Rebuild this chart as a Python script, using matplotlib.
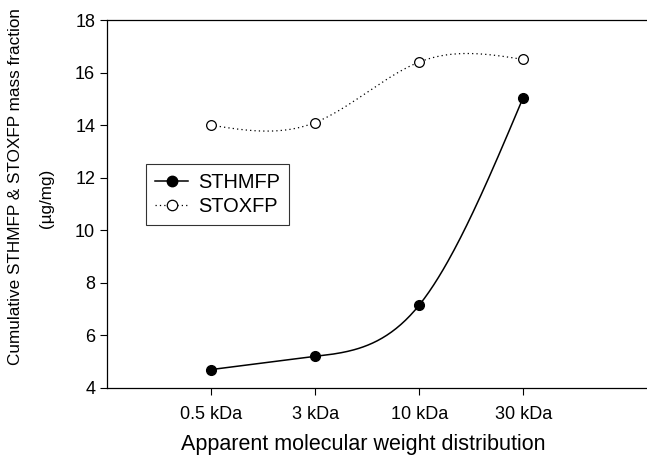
import numpy as np
import matplotlib
matplotlib.use("Agg")
import matplotlib.pyplot as plt

plt.rcParams['font.family'] = ['Liberation Sans', 'DejaVu Sans']

# --- data ---
categories = ['0.5 kDa', '3 kDa', '10 kDa', '30 kDa']
sthmfp = [4.7, 5.2, 7.15, 15.05]
stoxfp = [14.0, 14.1, 16.4, 16.5]


def natural_spline(x, y, n=200):
    # natural cubic spline through the points (smooth line as in SigmaPlot)
    x = np.asarray(x, float)
    y = np.asarray(y, float)
    k = len(x)
    h = np.diff(x)
    A = np.zeros((k, k))
    b = np.zeros(k)
    A[0, 0] = A[-1, -1] = 1
    for i in range(1, k - 1):
        A[i, i - 1] = h[i - 1]
        A[i, i] = 2 * (h[i - 1] + h[i])
        A[i, i + 1] = h[i]
        b[i] = 6 * ((y[i + 1] - y[i]) / h[i] - (y[i] - y[i - 1]) / h[i - 1])
    M = np.linalg.solve(A, b)
    xs = np.linspace(x[0], x[-1], n)
    ys = np.empty_like(xs)
    for j, t in enumerate(xs):
        i = min(np.searchsorted(x, t, side='right') - 1, k - 2)
        a, c = x[i], x[i + 1]
        hi = c - a
        ys[j] = (M[i] * (c - t) ** 3 / (6 * hi) + M[i + 1] * (t - a) ** 3 / (6 * hi)
                 + (y[i] / hi - M[i] * hi / 6) * (c - t)
                 + (y[i + 1] / hi - M[i + 1] * hi / 6) * (t - a))
    return xs, ys


xpos = np.arange(1, len(categories) + 1)

fig = plt.figure(figsize=(6.47, 4.55), dpi=100)
ax = fig.add_axes([0.1654, 0.1473, 0.8346, 0.8087])

xs, ys = natural_spline(xpos, sthmfp)
ax.plot(xs, ys, color='black', lw=1.1)
ax.plot(xpos, sthmfp, 'o', color='black', ms=7, zorder=3)
ax.plot([], [], '-o', color='black', lw=1.1, ms=7.5, label='STHMFP')

xs, ys = natural_spline(xpos, stoxfp)
ax.plot(xs, ys, color='black', lw=0.9, ls=(0, (1, 2.5)))
ax.plot(xpos, stoxfp, 'o', mfc='white', mec='black', mew=0.9, ms=7, zorder=3)
ax.plot([], [], 'o', ls=(0, (1, 2.5)), color='black', mfc='white', mew=0.9,
        lw=0.9, ms=7.5, label='STOXFP')

ax.set_xlim(0, 5.19)
ax.set_ylim(4, 18)
ax.set_xticks(xpos)
ax.set_xticklabels(categories)
ax.set_yticks(range(4, 19, 2))
ax.tick_params(labelsize=13, length=5, width=0.8, direction='out')
ax.tick_params(axis='x', pad=8)
ax.spines['right'].set_visible(False)
for s in ['left', 'top', 'bottom']:
    ax.spines[s].set_linewidth(0.9)

ax.set_xlabel('Apparent molecular weight distribution', fontsize=15.5)
ax.xaxis.set_label_coords(0.474, -0.125)
# y label: two lines placed separately, as in the original
fig.text(0.0247, 0.591, 'Cumulative STHMFP & STOXFP mass fraction', rotation=90,
         ha='center', va='center', fontsize=12.3)
fig.text(0.0726, 0.563, '(\u00b5g/mg)', rotation=90,
         ha='center', va='center', fontsize=12.3)

leg = ax.legend(loc='upper left', bbox_to_anchor=(0.0722, 0.6087), fontsize=14.4,
                frameon=True, fancybox=False, edgecolor='black', borderaxespad=0,
                handlelength=1.65, borderpad=0.45, labelspacing=0.25,
                handletextpad=0.5)
leg.get_frame().set_linewidth(0.8)

fig.savefig('out.png', dpi=100)
